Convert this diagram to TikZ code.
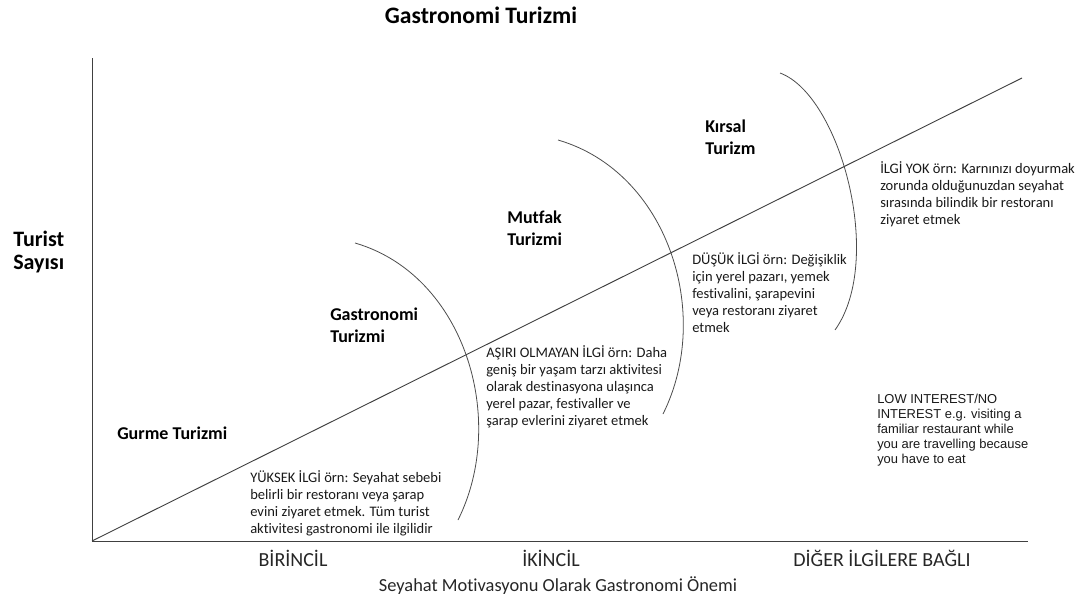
\documentclass[tikz,border=0pt]{standalone}
\usepackage{fontspec}
\setmainfont{Carlito}[Ligatures=NoCommon]
\newfontfamily\arialfont{Liberation Sans}
\begin{document}
\begin{tikzpicture}[x=0.75pt,y=-0.75pt,
  axisline/.style={draw=black!75, line width=0.7pt},
  curveline/.style={draw=black!70, line width=0.6pt},
  lbl/.style={font=\fontsize{13.5}{16.5}\selectfont\bfseries, align=left, anchor=north west, inner sep=0pt},
  desc/.style={font=\fontsize{10.9}{12.75}\selectfont, align=left, anchor=north west, inner sep=0pt, text=black!90},
  engdesc/.style={font=\arialfont\fontsize{9.7}{11.25}\selectfont, align=left, anchor=north west, inner sep=0pt, text=black!90},
  axlbl/.style={font=\fontsize{15}{17}\selectfont, anchor=base, inner sep=0pt, text=black!85}]
\useasboundingbox (0,0) rectangle (1083,603);
% axes
\coordinate (origin) at (92,541);
\coordinate (ytop) at (92,58);
\coordinate (xend) at (1028,541);
\coordinate (diagend) at (1022,78);
\draw[axisline] (ytop) -- (origin) -- (xend);
\draw[axisline] (origin) -- (diagend);
% curves
\coordinate (c1a) at (355,243); \coordinate (c1b) at (458,520);
\coordinate (c2a) at (558,140); \coordinate (c2b) at (663,414);
\coordinate (c3a) at (780,73);  \coordinate (c3b) at (835,330);
\draw[curveline] (c1a) .. controls (465,275) and (508,420) .. (c1b);
\draw[curveline] (c2a) .. controls (668,172) and (713,314) .. (c2b);
\draw[curveline] (c3a) .. controls (840,95) and (885,260) .. (c3b);
% title
\node[font=\fontsize{17.7}{20}\selectfont\bfseries, anchor=base, inner sep=0pt] (title) at (481,23) {Gastronomi Turizmi};
% y label
\node[font=\fontsize{16.5}{17}\selectfont\bfseries, align=left, anchor=north west, inner sep=0pt] (ylab) at (13,231) {Turist\\Sayısı};
% category labels
\node[lbl] (gurme) at (117,427) {Gurme Turizmi};
\node[lbl] (gastro) at (330,308) {Gastronomi\\Turizmi};
\node[lbl] (mutfak) at (507,211) {Mutfak\\Turizmi};
\node[lbl] (kirsal) at (705,120) {Kırsal\\Turizm};
% descriptions
\node[desc] (yuksek) at (250,470) {YÜKSEK İLGİ örn: Seyahat sebebi\\belirli bir restoranı veya şarap\\evini ziyaret etmek. Tüm turist\\aktivitesi gastronomi ile ilgilidir};
\node[desc] (asiri) at (486,345) {AŞIRI OLMAYAN İLGİ örn: Daha\\geniş bir yaşam tarzı aktivitesi\\olarak destinasyona ulaşınca\\yerel pazar, festivaller ve\\şarap evlerini ziyaret etmek};
\node[desc] (dusuk) at (692,252) {DÜŞÜK İLGİ örn: Değişiklik\\için yerel pazarı, yemek\\festivalini, şarapevini\\veya restoranı ziyaret\\etmek};
\node[desc] (yok) at (880,161) {İLGİ YOK örn: Karnınızı doyurmak\\zorunda olduğunuzdan seyahat\\sırasında bilindik bir restoranı\\ziyaret etmek};
\node[engdesc] (low) at (877,394) {LOW INTEREST/NO\\INTEREST e.g. visiting a\\familiar restaurant while\\you are travelling because\\you have to eat};
% axis labels
\node[axlbl] (birincil) at (293,566) {BİRİNCİL};
\node[axlbl] (ikincil) at (551,566) {İKİNCİL};
\node[axlbl] (diger) at (882,566) {DİĞER İLGİLERE BAĞLI};
\node[font=\fontsize{13.8}{16}\selectfont, anchor=base, inner sep=0pt, text=black!85] (xlab) at (558,591) {Seyahat Motivasyonu Olarak Gastronomi Önemi};
\end{tikzpicture}
\end{document}
